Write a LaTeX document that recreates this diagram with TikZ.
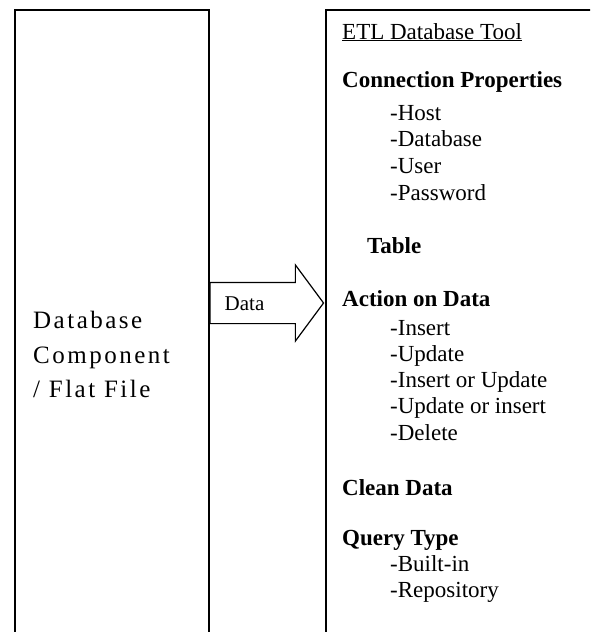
\documentclass[tikz,border=0pt]{standalone}
\usepackage{fontspec}
\setmainfont{Liberation Serif}
\newfontfamily\widefont[LetterSpace=10]{Liberation Serif}
\usetikzlibrary{shapes.arrows,positioning}
\tikzset{
  panel/.style={draw, line width=1.5pt, minimum width=#1, minimum height=700pt, anchor=north west, inner sep=0pt},
  headline/.style={font=\fontsize{23}{26}\selectfont\bfseries, anchor=base west, inner sep=0pt},
  item/.style={font=\fontsize{23}{26}\selectfont, anchor=base west, inner sep=0pt},
  srctext/.style={font=\fontsize{25}{28}\widefont, anchor=base west, inner sep=0pt},
  flowarrow/.style={single arrow, draw, fill=white, line width=1.2pt, font=\fontsize{21}{24}\selectfont,
    text width=69pt, align=left, text height=15pt, text depth=0pt, inner xsep=14pt, inner ysep=12.5pt,
    single arrow head extend=17.5pt, single arrow tip angle=107, anchor=tail}
}
\begin{document}
\begin{tikzpicture}[x=1pt,y=-1pt]
\useasboundingbox (0,0) rectangle (590,632);
\clip (0,0) rectangle (590,632);
% the two panels
\node[panel=194pt] (src) at (14,9) {};
\node[panel=300pt] (tool) at (325,9) {};

% source side
\node[srctext] (srcA) at (33,328) {Database};
\node[srctext] (srcB) at (33,363) {Component};
\node[srctext] (srcC) at (33,397) {/ Flat File};

% data flow
\node[flowarrow] (flow) at ([yshift=-294pt]src.north east) {Data};

% tool side
\node[item] (title) at (342,39) {\underline{ETL Database Tool}};
\node[headline] (conn) at (342,87) {Connection Properties};
\foreach \txt [count=\i] in {Host,Database,User,Password}
  \node[item] (conn\i) at (390,{93.3+26.7*\i}) {-\txt};
\node[headline] (table) at (367,253) {Table};
\node[headline] (action) at (342,306) {Action on Data};
\foreach \txt [count=\i] in {Insert,Update,Insert or Update,Update or insert,Delete}
  \node[item] (action\i) at (390,{309+26.2*\i}) {-\txt};
\node[headline] (clean) at (342,495) {Clean Data};
\node[headline] (query) at (342,545) {Query Type};
\foreach \txt [count=\i] in {Built-in,Repository}
  \node[item] (query\i) at (390,{546.5+25.3*\i}) {-\txt};
\end{tikzpicture}
\end{document}
